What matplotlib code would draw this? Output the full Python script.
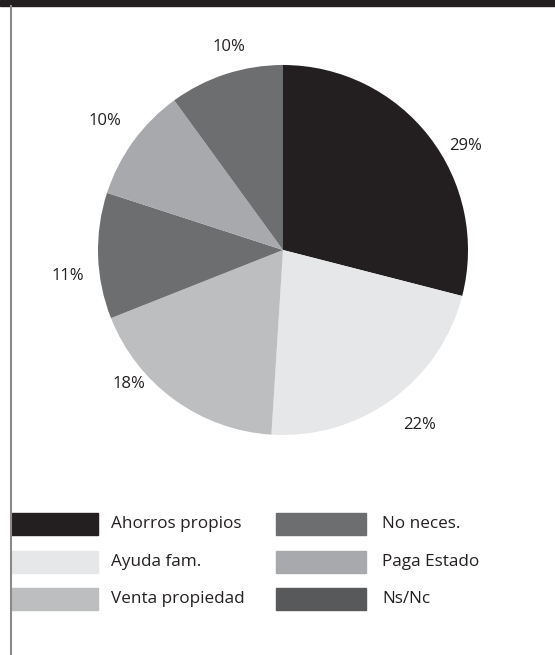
import numpy as np
import matplotlib.pyplot as plt
from matplotlib.patches import Rectangle

plt.rcParams['font.family'] = ['Open Sans', 'DejaVu Sans']

categories = ['Ahorros propios', 'Ayuda fam.', 'Venta propiedad',
              'No neces.', 'Paga Estado', 'Ns/Nc']
values = [29, 22, 18, 11, 10, 10]
slice_colors = ['#231f20', '#e6e7e8', '#bcbec0', '#6d6e70', '#a7a9ac', '#6d6e70']
legend_colors = ['#231f20', '#e6e7e8', '#bcbec0', '#6d6e70', '#a7a9ac', '#58595b']
# hand placement of the % labels: angle nudge (deg) and distance (radii)
label_shift = [-8, 2, -13, 5, 0, -3]
label_dist = [1.135, 1.2, 1.10, 1.17, 1.19, 1.135]

W, H = 555, 655
fig = plt.figure(figsize=(W / 100, H / 100), dpi=100)

# top bar and left rule
fig.patches.append(Rectangle((0, 1 - 6 / H), 1, 6 / H, transform=fig.transFigure,
                             color='#231f20', zorder=0))
fig.lines.append(plt.Line2D([11 / W, 11 / W], [0, 1 - 6 / H], transform=fig.transFigure,
                            color='#8a8a8a', lw=1.5))

cx, cy, r = 283, 250, 185
ax = fig.add_axes([(cx - r) / W, 1 - (cy + r) / H, 2 * r / W, 2 * r / H])
wedges, texts = ax.pie(values, colors=slice_colors, startangle=90, counterclock=False,
                       labels=[f'{v}%' for v in values],
                       wedgeprops=dict(linewidth=0),
                       textprops=dict(fontsize=12, color='#231f20'))
for w, t, s, d in zip(wedges, texts, label_shift, label_dist):
    ang = np.deg2rad((w.theta1 + w.theta2) / 2 + s)
    t.set_position((d * np.cos(ang), d * np.sin(ang)))
    t.set_horizontalalignment('center')
    t.set_verticalalignment('center')
ax.set_xlim(-1, 1)
ax.set_ylim(-1, 1)
ax.set_aspect('equal')
ax.axis('off')

# legend
rows_y = [524, 562, 599]
for i, (name, col) in enumerate(zip(categories, legend_colors)):
    column = i // 3
    y = rows_y[i % 3]
    x0, x1, tx = (11, 98, 111) if column == 0 else (276, 366, 382)
    fig.patches.append(Rectangle((x0 / W, 1 - (y + 11) / H), (x1 - x0) / W, 22 / H,
                                 transform=fig.transFigure, color=col))
    fig.text(tx / W, 1 - y / H, name, fontsize=12.3, color='#231f20', va='center', ha='left')

fig.savefig('out.png', dpi=100)
